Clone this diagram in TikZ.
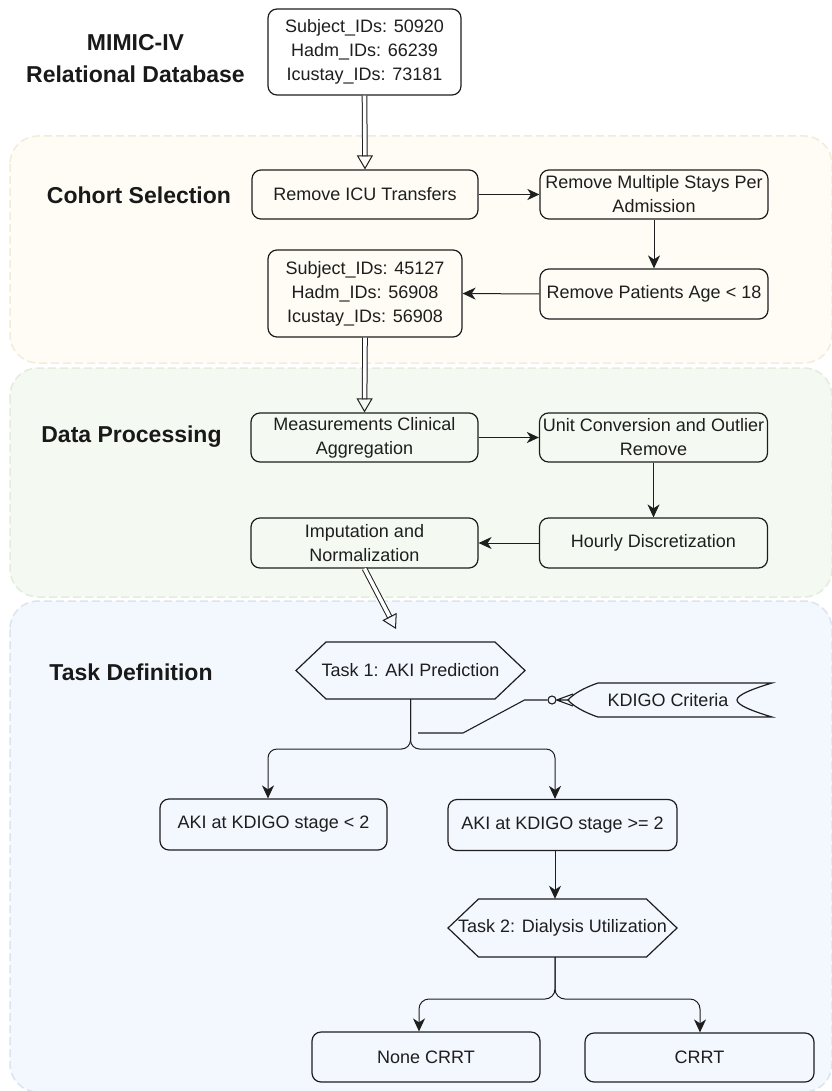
\documentclass[tikz,border=0pt]{standalone}
\usepackage{fontspec}
\setmainfont{Liberation Sans}
\usetikzlibrary{arrows.meta,calc}
\definecolor{cohortfill}{HTML}{FEFCF5}
\definecolor{cohortdraw}{HTML}{F3ECDB}
\definecolor{datafill}{HTML}{F4FAF2}
\definecolor{datadraw}{HTML}{E2EDDD}
\definecolor{taskfill}{HTML}{F3F7FE}
\definecolor{taskdraw}{HTML}{DDE4EF}
\definecolor{ink}{HTML}{1E1E1E}
\begin{document}
\begin{tikzpicture}[x=1pt,y=-1pt,
 box/.style={draw=ink, line width=1.2pt, rounded corners=9pt, align=center, inner sep=0pt, font=\fontsize{18}{24}\selectfont, text=ink},
 plain/.style={align=center, inner sep=0pt, font=\fontsize{18}{24}\selectfont, text=ink},
 title/.style={font=\bfseries\fontsize{23}{32}\selectfont, align=center, text=black!90},
 region/.style={dash pattern=on 8pt off 4pt, line width=1.5pt, rounded corners=28pt},
 arr/.style={draw=ink, line width=1pt, -{Stealth[length=13pt,width=12pt,inset=4pt]}},
 arrthick/.style={draw=ink, line width=1.8pt, -{Stealth[length=12pt,width=11pt,inset=3.5pt]}},
 dshaft/.style={draw=ink, line width=1pt, double=white, double distance=3.6pt, shorten >=13pt},
 dhead/.style={draw=ink, line width=1pt, -{Triangle[open,length=14pt,width=16pt]}},
 shapeline/.style={draw=ink, line width=1.2pt, line join=miter},
 erline/.style={draw=ink, line width=1.1pt},
]
\useasboundingbox (0,0) rectangle (831,1091);
\fill[white] (0,0) rectangle (831,1091);

% regions
\draw[region, draw=cohortdraw, fill=cohortfill] (10,136) rectangle (832,363);
\draw[region, draw=datadraw, fill=datafill] (10,368) rectangle (832,597);
\draw[region, draw=taskdraw, fill=taskfill] (10,601) rectangle (832,1092);

% titles
\node[title] (ttl) at (135.5,59) {MIMIC-IV\\Relational Database};
\node[title] (tcs) at (139,195) {Cohort Selection};
\node[title] (tdp) at (131.5,437) {Data Processing};
\node[title] (ttd) at (131,672) {Task Definition};

% boxes
\node[box, minimum width=193pt, minimum height=86pt] (db) at (364.5,52) {Subject\_IDs: 50920\\Hadm\_IDs: 66239\\Icustay\_IDs: 73181};
\node[box, minimum width=226pt, minimum height=49pt] (rmicu) at (365,194.5) {Remove ICU Transfers};
\node[box, minimum width=228pt, minimum height=49pt] (rmmult) at (654,194.5) {Remove Multiple Stays Per\\Admission};
\node[box, minimum width=228pt, minimum height=50pt] (rmage) at (654,294) {Remove Patients Age < 18};
\node[box, minimum width=194pt, minimum height=87pt] (sub) at (365,293.5) {Subject\_IDs: 45127\\Hadm\_IDs: 56908\\Icustay\_IDs: 56908};

\node[box, minimum width=227pt, minimum height=49pt] (meas) at (364.5,437.5) {Measurements Clinical\\Aggregation};
\node[box, minimum width=228pt, minimum height=49pt] (unit) at (653.5,437.5) {Unit Conversion and Outlier\\Remove};
\node[box, minimum width=228pt, minimum height=50pt] (hourly) at (653.5,543) {Hourly Discretization};
\node[box, minimum width=227pt, minimum height=50pt] (imp) at (364.5,543) {Imputation and\\Normalization};

\node[box, minimum width=227pt, minimum height=51pt] (akil) at (273.5,824.5) {AKI at KDIGO stage < 2};
\node[box, minimum width=229pt, minimum height=51pt] (akih) at (562.5,825) {AKI at KDIGO stage >= 2};
\node[box, minimum width=228pt, minimum height=50pt] (none) at (426,1057) {None CRRT};
\node[box, minimum width=229pt, minimum height=49pt] (crrt) at (699.5,1057.5) {CRRT};

% hexagons
\node[plain, minimum height=57pt] (t1) at (410.5,670.5) {Task 1: AKI Prediction};
\draw[shapeline] ($(t1)+(-84.5,-28.5)$) -- ($(t1)+(84.5,-28.5)$) -- ($(t1)+(114.5,0)$) -- ($(t1)+(84.5,28.5)$) -- ($(t1)+(-84.5,28.5)$) -- ($(t1)+(-114.5,0)$) -- cycle;
\node[plain, minimum height=58pt] (t2) at (562.5,928) {Task 2: Dialysis Utilization};
\draw[shapeline] ($(t2)+(-84,-29)$) -- ($(t2)+(84,-29)$) -- ($(t2)+(114.5,0)$) -- ($(t2)+(84,29)$) -- ($(t2)+(-84,29)$) -- ($(t2)+(-114.5,0)$) -- cycle;

% KDIGO shape
\node[plain] (kd) at (668,700) {KDIGO Criteria};
\draw[shapeline] ($(kd)+(-70,-17)$) -- ($(kd)+(104,-17)$)
  .. controls ($(kd)+(84,-11)$) and ($(kd)+(69,-5)$) .. ($(kd)+(69,0)$)
  .. controls ($(kd)+(69,5)$) and ($(kd)+(84,11)$) .. ($(kd)+(104,17)$)
  -- ($(kd)+(-70,17)$)
  .. controls ($(kd)+(-85,12)$) and ($(kd)+(-96,5)$) .. ($(kd)+(-100,0)$)
  .. controls ($(kd)+(-96,-5)$) and ($(kd)+(-85,-12)$) .. ($(kd)+(-70,-17)$) -- cycle;
\node[circle, draw=ink, line width=1.1pt, inner sep=0pt, minimum size=8pt, fill=taskfill] (kdc) at ($(kd)+(-116,0)$) {};
\draw[erline] (kdc.east) -- ($(kd)+(-95,-6)$) (kdc.east) -- ($(kd)+(-100,0)$) (kdc.east) -- ($(kd)+(-95,6)$);
\coordinate (kdend) at (418,733);
\draw[erline] (kdc.west) -- ++(-23,0) -- ($(kdend)+(45,0)$) -- (kdend);

% arrows cohort
\draw[arrthick] (rmicu.east) -- (rmmult.west);
\draw[arr] (rmmult.south) -- (rmage.north);
\draw[arr] (rmage.west) -- (sub.east);
% arrows data processing
\draw[arrthick] (meas.east) -- (unit.west);
\draw[arr] (unit.south) -- (hourly.north);
\draw[arr] (hourly.west) -- (imp.east);

% double arrows
\draw[dshaft] (db.south) -- (rmicu.north);
\draw[dhead] ($(rmicu.north)!14pt!(db.south)$) -- (rmicu.north);
\draw[dshaft] (sub.south) -- (meas.north);
\draw[dhead] ($(meas.north)!14pt!(sub.south)$) -- (meas.north);
\coordinate (t1in) at (396,629);
\draw[dshaft] (imp.south) -- (t1in);
\draw[dhead] ($(t1in)!14pt!(imp.south)$) -- (t1in);

% task forks
\coordinate (f1l) at (268,749);
\coordinate (f1r) at (555,749);
\draw[arr, rounded corners=9pt] (t1.south) |- (f1l) -- (f1l |- akil.north);
\draw[arr, rounded corners=9pt] (t1.south) |- (f1r) -- (f1r |- akih.north);
\draw[arr] (akih.south -| f1r) -- (t2.north -| f1r);
\coordinate (f2l) at (419,999);
\coordinate (f2r) at (700,999);
\draw[arr, rounded corners=10pt] (t2.south -| f1r) |- (f2l) -- (f2l |- none.north);
\draw[arr, rounded corners=10pt] (t2.south -| f1r) |- (f2r) -- (f2r |- crrt.north);
\end{tikzpicture}
\end{document}
